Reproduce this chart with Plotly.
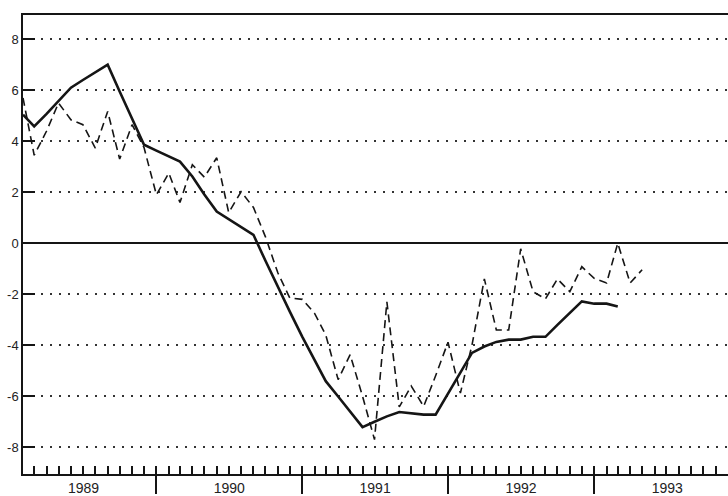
import pandas as pd
import plotly.graph_objects as go

# monthly observations, Feb 1989 onwards
MONTHS = pd.date_range('1989-02-01', periods=52, freq='MS')

# solid line: trend (Feb 1989 - Mar 1993)
TREND = [
    5.04, 4.58, 5.07, 5.56, 6.1, 6.4, 6.7, 7.0, 5.95, 4.9, 3.86,
    3.63, 3.40, 3.2, 2.62, 1.91, 1.24, 0.94, 0.65, 0.33, -0.69, -1.72, -2.68,
    -3.66, -4.56, -5.41, -6.01, -6.61, -7.21, -7.0, -6.79, -6.62, -6.66, -6.72, -6.72,
    -5.9, -5.1, -4.3, -4.05, -3.87, -3.78, -3.78, -3.67, -3.67, -3.2, -2.74, -2.28,
    -2.37, -2.37, -2.48,
]

# dashed line: monthly values (Feb 1989 - May 1993)
MONTHLY = [
    5.7, 3.45, 4.4, 5.5, 4.84, 4.65, 3.73, 5.17, 3.3, 4.65, 3.75,
    1.9, 2.75, 1.6, 3.08, 2.59, 3.35, 1.2, 2.02, 1.4, 0.25, -1.16, -2.15,
    -2.2, -2.75, -3.6, -5.35, -4.37, -6.0, -7.7, -2.3, -6.42, -5.6, -6.4, -5.2,
    -3.88, -5.88, -4.0, -1.4, -3.4, -3.4, -0.22, -1.9, -2.18, -1.4, -1.9, -0.92,
    -1.38, -1.56, 0.0, -1.56, -1.04,
]

Y_TICKS = [-8, -6, -4, -2, 0, 2, 4, 6, 8]
Y_LABELS = ['-8', '-6', '-4', '-2', '0', '2', '4', '6', '8']

X_RANGE = ['1989-02-01', '1993-12-02']

INK = '#151515'
FONT = 'Liberation Sans, Arial, sans-serif'

fig = go.Figure()

# dashed series sits on the overlaid axis so that its monthly ticks get drawn
fig.add_trace(go.Scatter(
    x=MONTHS[:len(MONTHLY)], y=MONTHLY, xaxis='x2',
    mode='lines', line=dict(color=INK, width=1.6, dash='8px,5px'),
    showlegend=False,
))
fig.add_trace(go.Scatter(
    x=MONTHS[:len(TREND)], y=TREND,
    mode='lines', line=dict(color=INK, width=2.6),
    showlegend=False,
))

fig.update_layout(
    width=728,
    height=496,
    paper_bgcolor='white',
    plot_bgcolor='white',
    margin=dict(l=23, r=0, t=15, b=22, autoexpand=False),
    font=dict(family=FONT, size=13, color='#222'),
    xaxis=dict(
        type='date',
        range=X_RANGE,
        automargin=False,
        showgrid=False, zeroline=False,
        showline=True, linecolor=INK, linewidth=1.5, mirror=True,
        tick0='1989-01-01', dtick='M12',
        tickformat='%Y', ticklabelmode='period',
        ticks='outside', ticklen=18, tickwidth=1.5, tickcolor=INK,
        ticklabelstandoff=-18,
        tickfont=dict(size=14),
    ),
    # monthly tick marks, drawn inside the plot on an overlaid axis
    xaxis2=dict(
        type='date',
        range=X_RANGE,
        automargin=False,
        overlaying='x', side='bottom', matches='x',
        showgrid=False, zeroline=False, showline=False,
        tick0='1989-01-01', dtick='M1',
        ticks='inside', ticklen=8, tickwidth=1.5, tickcolor=INK,
        showticklabels=False,
    ),
    yaxis=dict(
        range=[-9.05, 8.95],
        automargin=False,
        tickvals=Y_TICKS, ticktext=Y_LABELS,
        showline=True, linecolor=INK, linewidth=1.5,
        ticks='inside', ticklen=12, tickwidth=2, tickcolor=INK,
        showgrid=True, gridcolor='#333', gridwidth=1.5, griddash='2px,7px',
        zeroline=True, zerolinecolor=INK, zerolinewidth=1.5,
    ),
)

fig.write_html(
    'out.html',
    config={'displayModeBar': False},
    post_script="document.body.style.margin='0';",
)
